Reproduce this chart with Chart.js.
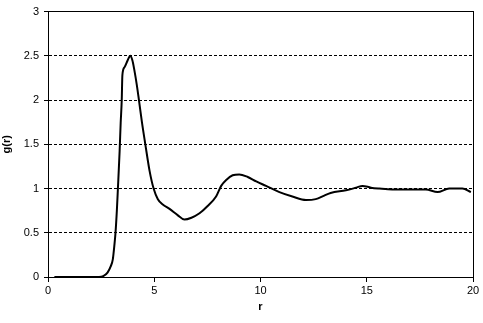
<!DOCTYPE html>
<html><head><meta charset="utf-8">
<script src="https://cdn.jsdelivr.net/npm/chart.js@4"></script>
<style>html,body{margin:0;padding:0;background:#fff}#w{width:483px;height:323px}</style>
</head><body><div id="w"><canvas id="c"></canvas></div>
<script>
const rValues = [0.3,1,2,2.4,2.6,2.8,2.95,3.05,3.12,3.18,3.24,3.29,3.37,3.42,3.47,3.5,3.6,3.75,3.87,3.97,4.07,4.18,4.28,4.42,4.58,4.78,4.97,5.17,5.4,5.72,6.1,6.42,6.75,7.13,7.5,7.91,8.15,8.4,8.69,9.0,9.4,9.8,10.26,10.89,11.5,12.14,12.6,13.0,13.3,14.02,14.5,14.8,15.2,15.59,16.2,17,17.78,18.33,18.88,19.5,19.9];
const gValues = [0,0,0,0,0.01,0.05,0.12,0.2,0.35,0.51,0.75,1.0,1.42,1.74,2.0,2.28,2.37,2.45,2.5,2.45,2.33,2.17,2.0,1.75,1.5,1.2,1.0,0.88,0.82,0.77,0.7,0.65,0.67,0.72,0.8,0.91,1.03,1.1,1.15,1.16,1.13,1.08,1.03,0.96,0.91,0.87,0.88,0.92,0.95,0.98,1.01,1.03,1.01,1.0,0.99,0.99,0.99,0.96,1.0,1.0,0.96];
const xTicks = [0,5,10,15,20];
const yTicks = [0,0.5,1,1.5,2,2.5,3];

const points = rValues.map((r,i)=>({x:r,y:gValues[i]}));
const font = {family:'"Liberation Sans", Arial, sans-serif', size:11};
const frameAxis = (pos, min, max) => ({
  type:'linear', position:pos, min, max, display:true,
  afterFit(s){ if (s.isHorizontal()) s.height = 0; else s.width = 0; },
  grid:{drawOnChartArea:false, drawTicks:false},
  border:{display:true, color:'#000', width:1},
  ticks:{display:false}
});
new Chart(document.getElementById('c'), {
  type:'line',
  data:{datasets:[{data:points, borderColor:'#000', borderWidth:2, pointRadius:0, fill:false, cubicInterpolationMode:'monotone', xAxisID:'x', yAxisID:'y'}]},
  options:{
    responsive:true, maintainAspectRatio:false, animation:false,
    layout:{padding:{top:9, right:10, left:0, bottom:0}},
    plugins:{legend:{display:false}, tooltip:{enabled:false}},
    scales:{
      x:{type:'linear', position:'bottom', min:0, max:20,
        afterBuildTicks(s){ s.ticks = xTicks.map(v=>({value:v})); },
        afterFit(s){ s.height = 46; },
        grid:{drawOnChartArea:false, drawTicks:true, tickLength:5, color:'#000', tickColor:'#000'},
        border:{display:true, color:'#000', width:1},
        ticks:{color:'#000', font, padding:2, maxRotation:0, callback:(v)=>String(v)},
        title:{display:true, text:'r', color:'#000', font:{...font, weight:'bold'}, padding:{top:3,bottom:9}}
      },
      y:{type:'linear', position:'left', min:0, max:3,
        afterBuildTicks(s){ s.ticks = yTicks.map(v=>({value:v})); },
        afterFit(s){ s.width = 48; },
        grid:{drawOnChartArea:true, drawTicks:true, tickLength:4, color:'#000', tickColor:'#000', tickBorderDash:[]},
        border:{display:true, color:'#000', width:1, dash:[3,2]},
        ticks:{color:'#000', font, padding:5, callback:(v)=>String(v)},
        title:{display:true, text:'g(r)', color:'#000', font:{...font, weight:'bold'}, padding:{top:0,bottom:0}}
      },
      xTop: frameAxis('top', 0, 20),
      yRight: frameAxis('right', 0, 3)
    }
  }
});
</script></body></html>
